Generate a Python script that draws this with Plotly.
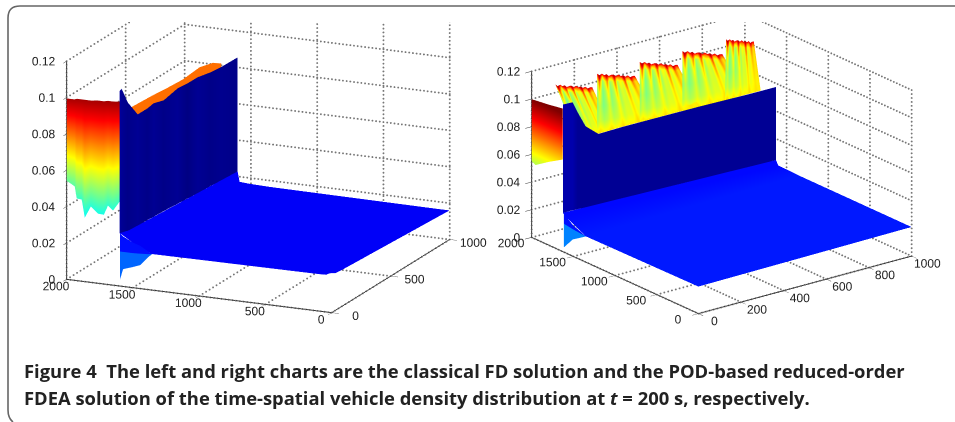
import plotly.graph_objects as go
import numpy as np

W, H = 955, 422
JET = [[0, 'rgb(0,0,127)'], [.11, 'rgb(0,0,255)'], [.36, 'rgb(0,255,255)'],
       [.61, 'rgb(255,255,0)'], [.86, 'rgb(255,0,0)'], [1, 'rgb(128,0,0)']]
CMAX = 0.1

# ---- left chart data
L_WALL_Y = 1600
L_top_x = [0, 17, 68, 153, 237, 288, 373, 492, 576, 661, 771, 856, 1000]
L_top_z = [.1072, .1078, .0983, .0882, .0882, .0889, .0871, .0889, .0883, .0882, .0865, .0858, .0855]
L_base_z = [.029, .0285, .0275, .027, .0268, .0265, .0262, .0255, .025, .0245, .024, .0235, .0228]
L_wall_c = [.003, .002, .001, .002, .001, .002, .001, .002, .0005, .002, .001, .0015, .001]
L_band_x = [93, 277, 404, 545, 686, 799, 870]
L_band_z = [.0940, .0932, .0923, .0916, .0926, .0905, .0873]
L_face_y = [1600, 1650, 1688, 1719, 1764, 1817, 1863, 1886, 1924, 1939, 1992, 2000]
L_face_bot = [.0464, .041, .0434, .0381, .0383, .0417, .0352, .0449, .0452, .0517, .0539, .054]
L_face_top = [.1014, .101, .101, .1005, .1005, .1, .1, .1, .1, .0995, .0995, .0995]
L_skirt_y = [1354, 1384, 1445, 1506, 1574, 1597]
L_skirt_bot = [.0198, .0179, .0129, .0112, .0095, .0037]
L_skirt_mid = [.0198, .0195, .0192, .0190, .0190, .0190]
L_skirt_top = [.0198, .0210, .0235, .025, .0275, .029]
L_floor_x = [0, 30, 80, 1000]
L_floor_y = [0, 40, 100, 1354, 1506, 1585, 1600]
L_floor_z = [[.0225, .0205, .0200, .0160],
             [.0205, .0203, .0200, .0160],
             [.0203, .0202, .0200, .0160],
             [.0198, .0198, .0195, .0165],
             [.0250, .0235, .0215, .0168],
             [.0285, .0270, .0240, .0172],
             [.0290, .0285, .0275, .0228]]
L_floor_c = .0105

# ---- right chart data
R_WALL_Y = 1626
R_top_x = [0, 46, 70, 107, 167, 284, 442, 642, 865, 1000]
R_top_z = [.1063, .106, .0976, .0861, .0781, .0785, .0784, .0782, .0775, .0774]
R_base_z = [.028, .028, .0278, .0276, .0272, .0268, .0262, .0256, .025, .0246]
R_wall_c = [.004, .004, .002, .002, .002, .002, .002, .002, .002, .002]
R_face_y = [1627, 1800, 1952, 1988, 2000]
R_face_bot = [.0665, .0600, .0536, .0546, .0550]
R_face_top = [.1034, .1015, .1003, .0999, .0998]
R_skirt_y = [1349, 1506, 1614]
R_skirt_bot = [.0186, .0121, .0034]
R_skirt_top = [.0186, .0195, .0205]
R_band_top = [.0186, .0225, .028]
R_floor_x = [0, 1000]
R_floor_y = [0, 1350, 1600, 1626]
R_floor_z = [[.0195, .0210], [.0186, .0210], [.0265, .0215], [.0280, .0246]]
R_floor_c = [[.0135, .0135], [.0135, .0135], [.0118, .0118], [.0118, .0118]]
R_FIN_Y = 1880
R_fin_a = [65, 260, 460, 660, 865]
R_fin_b = [237, 437, 637, 847, 995]
R_fin_za = [.1105, .1103, .1105, .1100, .1100]
R_fin_zb = [.1015, .1014, .1010, .1000, .1030]
R_fin_bot_a = [70, 163, 363, 563, 763]
R_fin_bot_b = [232, 447, 642, 865, 930]
R_fin_bot_z = [.0781, .0784, .0782, .0775, .0775]
fin_col = [0, .06, .13, .19, .25, .31, .38, .44, .5, .56, .63, .69, .75, .81, .88, .94, 1]
fin_jitter = [.0005, -.0005, .0007, -.0003, .0005, -.0007, .0003, .0005, -.0005, .0007, -.0003, .0005, -.0005, .0005, -.0007, .0003, .0005]
fin_row = [0, .05, .12, .3, .55, .8, 1]
fin_row_c = [.088, .066, .052, .047, .047, .052, .062]
fin_row_w = [.3, .9, .8, .5, .25, .15, .1]
fin_stripe = [.005, .03, -.002, .006, .026, -.004, .004, .028, -.003, .008, .002, .03, 0, .006, .02, .008, .012]

x_ticks_L = [0, 500, 1000]
x_ticks_R = [0, 200, 400, 600, 800, 1000]
y_ticks = [0, 500, 1000, 1500, 2000]
z_ticks = [0, .02, .04, .06, .08, .1, .12]
z_labels = ['0', '0.02', '0.04', '0.06', '0.08', '0.1', '0.12']


def solid(x, y, z, c, scene):
    z = np.asarray(z, float)
    c = np.broadcast_to(np.asarray(c, float), z.shape)
    return go.Surface(x=x, y=y, z=z, surfacecolor=c, cmin=0, cmax=CMAX, colorscale=JET,
                      showscale=False, scene=scene, hoverinfo='skip',
                      lighting=dict(ambient=1, diffuse=0, specular=0, roughness=1, fresnel=0))


def vplane_x(xv, yv, zb, zt, rows, c, scene):
    """vertical sheet: each column (xv[i], yv[i]) goes from zb[i] to zt[i]."""
    xv, yv, zb, zt, rows = map(lambda a: np.asarray(a, float), (xv, yv, zb, zt, rows))
    X = np.tile(xv, (len(rows), 1))
    Y = np.tile(yv, (len(rows), 1))
    Z = np.outer(1 - rows, zb) + np.outer(rows, zt)
    return solid(X, Y, Z, c(Z, rows) if callable(c) else c, scene)


def grid(xt, yt, zt, scene, n):
    """dotted Matlab-style grid on the three back planes, drawn as dots between the ticks"""
    xs, ys, zs = [], [], []
    xm, ym, zm = max(xt), max(yt), max(zt)
    def seg(a, b, k):
        f = (np.arange(k + 1) / k)
        xs.extend(a[0] + f * (b[0] - a[0])); ys.extend(a[1] + f * (b[1] - a[1])); zs.extend(a[2] + f * (b[2] - a[2]))
    for t in xt:
        seg((t, 0, 0), (t, ym, 0), n[1]); seg((t, ym, 0), (t, ym, zm), n[2])
    for t in yt:
        seg((0, t, 0), (xm, t, 0), n[0]); seg((xm, t, 0), (xm, t, zm), n[2])
    for t in zt:
        seg((xm, 0, t), (xm, ym, t), n[1]); seg((xm, ym, t), (0, ym, t), n[0])
    return go.Scatter3d(x=xs, y=ys, z=zs, mode='markers', scene=scene, hoverinfo='skip', showlegend=False,
                        marker=dict(color='#777777', size=1.1, line=dict(width=0)))


def z_label_trace(scene):
    """z tick labels at the ticks themselves, to the left of the vertical axis"""
    return go.Scatter3d(x=[0] * len(z_ticks), y=[2000] * len(z_ticks), z=z_ticks, mode='text',
                        text=[t + '\u00a0\u00a0\u00a0' for t in z_labels], textposition='middle left',
                        textfont=dict(family='Liberation Sans', size=12, color='#222222'),
                        scene=scene, hoverinfo='skip', showlegend=False)


fig = go.Figure()
S1, S2 = 'scene', 'scene2'

# left chart
fig.add_trace(grid(x_ticks_L, y_ticks, z_ticks, S1, (34, 72, 56)))
fig.add_trace(z_label_trace(S1))
fig.add_trace(solid(L_floor_x, L_floor_y, L_floor_z, L_floor_c, S1))
rows_solid = [0, 1]
wall_c = np.tile(np.asarray(L_wall_c), (2, 1))
fig.add_trace(vplane_x(L_top_x, [L_WALL_Y] * len(L_top_x), L_base_z, L_top_z, rows_solid, wall_c, S1))
fig.add_trace(vplane_x(L_band_x, [L_WALL_Y + 8] * len(L_band_x), [.07] * len(L_band_x), L_band_z, rows_solid, .075, S1))
face_rows = [0, .12, .25, .4, .55, .7, .85, 1]
fig.add_trace(vplane_x([0] * len(L_face_y), L_face_y, L_face_bot, L_face_top, face_rows,
                       lambda Z, r: .48 * Z + .5 * (.04 + .055 * np.tile(r[:, None], (1, Z.shape[1]))), S1))
fig.add_trace(vplane_x([0] * len(L_skirt_y), L_skirt_y, L_skirt_bot, L_skirt_mid, rows_solid, .021, S1))
fig.add_trace(vplane_x([0] * len(L_skirt_y), L_skirt_y, L_skirt_mid, L_skirt_top, rows_solid, .0125, S1))

# right chart
fig.add_trace(grid(x_ticks_R, y_ticks, z_ticks, S2, (56, 56, 42)))
fig.add_trace(z_label_trace(S2))
fig.add_trace(solid(R_floor_x, R_floor_y, R_floor_z, R_floor_c, S2))
wall_c = np.tile(np.asarray(R_wall_c), (2, 1))
fig.add_trace(vplane_x(R_top_x, [R_WALL_Y] * len(R_top_x), R_base_z, R_top_z, rows_solid, wall_c, S2))
fig.add_trace(vplane_x([0] * len(R_face_y), R_face_y, R_face_bot, R_face_top, face_rows,
                       lambda Z, r: Z, S2))
fig.add_trace(vplane_x([0] * len(R_skirt_y), R_skirt_y, R_skirt_bot, R_skirt_top, rows_solid, .024, S2))
fig.add_trace(vplane_x([0] * len(R_skirt_y), R_skirt_y, R_skirt_top, R_band_top, rows_solid, .0125, S2))
col = np.asarray(fin_col); rw = np.asarray(fin_row)
for a, b, za, zb, ba, bb, bz in zip(R_fin_a, R_fin_b, R_fin_za, R_fin_zb, R_fin_bot_a, R_fin_bot_b, R_fin_bot_z):
    top_x = a + col * (b - a)
    top_z = za + col * (zb - za) + np.asarray(fin_jitter)
    bot_x = ba + col * (bb - ba)
    X = np.outer(1 - rw, top_x) + np.outer(rw, bot_x)
    Y = np.outer(1 - rw, [R_FIN_Y] * len(col)) + np.outer(rw, [R_WALL_Y + 6] * len(col))
    Z = np.outer(1 - rw, top_z) + np.outer(rw, [bz] * len(col))
    C = np.outer(fin_row_w, fin_stripe) + np.tile(np.asarray(fin_row_c)[:, None], (1, len(col)))
    C = C + np.outer(rw * (1 - rw) * 2, col) * .03
    fig.add_trace(solid(X, Y, Z, C, S2))


def camera(dir_, R, cz, cr):
    d = np.asarray(dir_, float)
    r = np.array([-d[1], d[0], 0.0]); r /= np.linalg.norm(r)
    c = np.array([0, 0, cz]) + cr * r
    e = c + d * R
    return dict(eye=dict(x=e[0], y=e[1], z=e[2]), center=dict(x=c[0], y=c[1], z=c[2]),
                up=dict(x=0, y=0, z=1), projection=dict(type='orthographic'))


def axis(rng, ticks, labels=None, show_labels=True):
    return dict(range=rng, tickvals=ticks, ticktext=labels if labels else [str(t) for t in ticks],
                showbackground=False, showgrid=False, zeroline=False, showline=True, linecolor='#333333',
                linewidth=2, ticks='outside', ticklen=8, tickcolor='#333333', tickwidth=1, title=dict(text=''),
                tickangle=0, tickfont=dict(family='Liberation Sans', size=12, color='#222222'),
                showticklabels=show_labels, showspikes=False, autorange=False)


def P(x, y):
    return f'{x / W:.5f} {1 - y / H:.5f}'


frame = ('M ' + P(955, 6) + ' L ' + P(20, 6) + ' Q ' + P(8, 6) + ' ' + P(8, 18) + ' L ' + P(8, 410) +
         ' Q ' + P(8, 418) + ' ' + P(13, 422))

fig.update_layout(
    width=W, height=H, margin=dict(l=0, r=0, t=0, b=0), paper_bgcolor='white', showlegend=False,
    shapes=[dict(type='path', path=frame, xref='paper', yref='paper', line=dict(color='#666666', width=1.6))],
    scene=dict(domain=dict(x=[0, .53], y=[1 - 345 / H, 1 - 22 / H]), aspectmode='manual',
               aspectratio=dict(x=1.78, y=1.80, z=1.407),
               xaxis=axis([0, 1000], x_ticks_L), yaxis=axis([0, 2000], y_ticks),
               zaxis=axis([0, .12], z_ticks, z_labels, False),
               camera=camera((-.875, -.394, .279), 4, -.214, -.032)),
    scene2=dict(domain=dict(x=[.51, 1], y=[1 - 345 / H, 1 - 22 / H]), aspectmode='manual',
                aspectratio=dict(x=1.665, y=1.695, z=1.098),
                xaxis=axis([0, 1000], x_ticks_R), yaxis=axis([0, 2000], y_ticks),
                zaxis=axis([0, .12], z_ticks, z_labels, False),
                camera=camera((-.570, -.742, .351), 4, -.131, -.004)),
    annotations=[
        dict(text='Figure 4  The left and right charts are the classical FD solution and the POD-based reduced-order',
             x=22 / W, y=1 - 370 / H, xref='paper', yref='paper', xanchor='left', yanchor='middle', showarrow=False,
             font=dict(family='Open Sans', size=18.4, color='#222222', weight='bold')),
        dict(text='FDEA solution of the time-spatial vehicle density distribution at <i>t</i> = 200 s, respectively.',
             x=22 / W, y=1 - 397 / H, xref='paper', yref='paper', xanchor='left', yanchor='middle', showarrow=False,
             font=dict(family='Open Sans', size=18.4, color='#222222', weight='bold')),
    ],
)
fig.write_html('out.html', post_script='document.body.style.margin="0";', config={'displayModeBar': False})
